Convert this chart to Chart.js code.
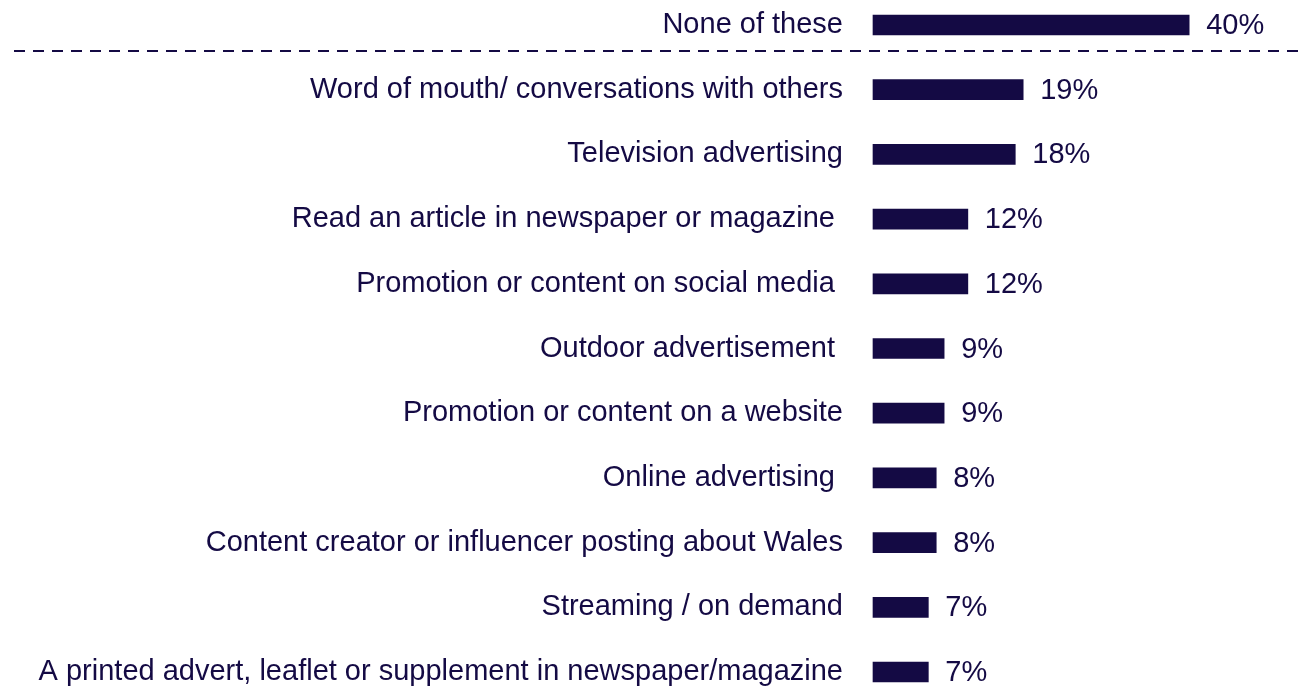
<!DOCTYPE html>
<html>
<head>
    <title>Sources of awareness</title>
    <script src="https://cdn.jsdelivr.net/npm/chart.js"></script>
    <style>
        html, body { margin: 0; padding: 0; background: #fff; }
        #wrap { width: 1303px; height: 688px; position: relative; }
    </style>
</head>
<body>
    <div id="wrap">
        <canvas id="sourceChart"></canvas>
    </div>

    <script>
        // some labels carry a trailing space, as in the source deck
        const categories = [
            'None of these',
            'Word of mouth/ conversations with others',
            'Television advertising',
            'Read an article in newspaper or magazine ',
            'Promotion or content on social media ',
            'Outdoor advertisement ',
            'Promotion or content on a website',
            'Online advertising ',
            'Content creator or influencer posting about Wales',
            'Streaming / on demand',
            'A printed advert, leaflet or supplement in newspaper/magazine'
        ];
        const percentages = [40, 19, 18, 12, 12, 9, 9, 8, 8, 7, 7];

        const navy = '#140A44';
        const fontFamily = '"Liberation Sans", Arial, sans-serif';

        // value labels at the end of each bar
        const valueLabels = {
            id: 'valueLabels',
            afterDatasetsDraw(chart) {
                const ctx = chart.ctx;
                const meta = chart.getDatasetMeta(0);
                ctx.save();
                ctx.font = '29px ' + fontFamily;
                ctx.fillStyle = navy;
                ctx.textAlign = 'left';
                ctx.textBaseline = 'middle';
                meta.data.forEach((bar, i) => {
                    ctx.fillText(percentages[i] + '%', bar.x + 17, bar.y + 1);
                });
                ctx.restore();
            }
        };

        // dashed separator under the "None of these" row
        const separator = {
            id: 'separator',
            afterDraw(chart) {
                const y0 = chart.scales.y.getPixelForValue(0);
                const y1 = chart.scales.y.getPixelForValue(1);
                const y = Math.round((y0 + y1) / 2 - 6);
                const ctx = chart.ctx;
                ctx.save();
                ctx.strokeStyle = navy;
                ctx.lineWidth = 2;
                ctx.setLineDash([11, 8]);
                ctx.beginPath();
                ctx.moveTo(14, y);
                ctx.lineTo(chart.width, y);
                ctx.stroke();
                ctx.restore();
            }
        };

        const ctx = document.getElementById('sourceChart').getContext('2d');
        new Chart(ctx, {
            type: 'bar',
            data: {
                labels: categories,
                datasets: [{
                    data: percentages,
                    backgroundColor: navy,
                    borderWidth: 0,
                    barThickness: 20,
                    clip: false
                }]
            },
            options: {
                indexAxis: 'y',
                responsive: true,
                maintainAspectRatio: false,
                animation: false,
                layout: {
                    padding: { top: 25, bottom: 16, left: 0, right: 0 }
                },
                plugins: {
                    legend: { display: false },
                    tooltip: { enabled: false }
                },
                scales: {
                    x: {
                        display: false,
                        min: 0,
                        max: 54.4
                    },
                    y: {
                        offset: false,
                        grid: { display: false, drawTicks: false },
                        border: { display: false },
                        afterFit(scale) {
                            scale.width = 873;
                            scale.paddingTop = 0;
                            scale.paddingBottom = 0;
                        },
                        ticks: {
                            color: navy,
                            padding: 30,
                            font: { family: fontFamily, size: 29 }
                        }
                    }
                }
            },
            plugins: [valueLabels, separator]
        });
    </script>
</body>
</html>
